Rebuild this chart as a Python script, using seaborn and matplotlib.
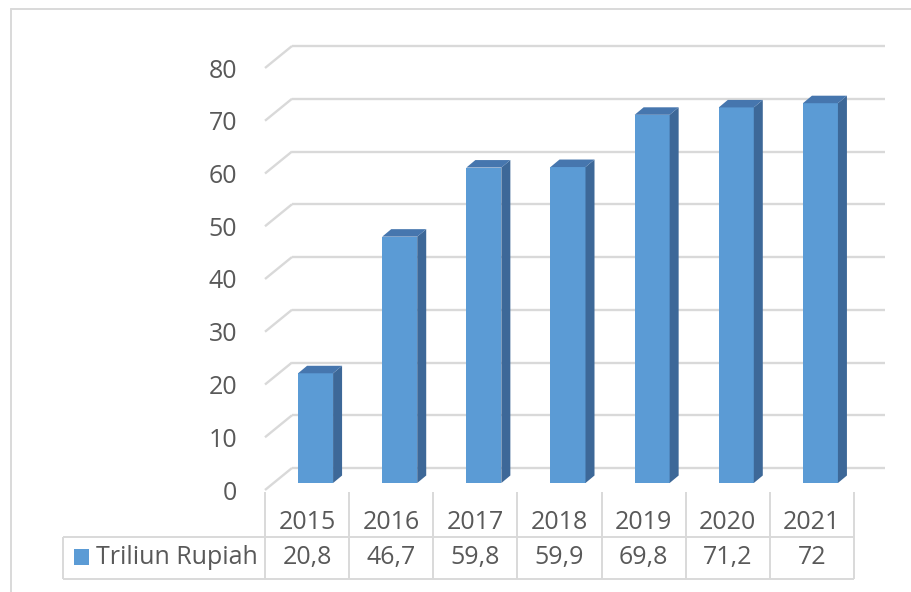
import numpy as np
import pandas as pd
import seaborn as sns
import matplotlib
matplotlib.use("Agg")
import matplotlib.pyplot as plt
from matplotlib.patches import Polygon, Rectangle
from matplotlib.lines import Line2D
import matplotlib.transforms as mtransforms

# ---------------- data ----------------
years = ["2015", "2016", "2017", "2018", "2019", "2020", "2021"]
values = [20.8, 46.7, 59.8, 59.9, 69.8, 71.2, 72]
value_labels = ["20,8", "46,7", "59,8", "59,9", "69,8", "71,2", "72"]
series_name = "Triliun Rupiah"
y_ticks = [0, 10, 20, 30, 40, 50, 60, 70, 80]

# ---------------- style ----------------
sns.set_style("white")
plt.rcParams["font.family"] = ["Open Sans", "DejaVu Sans"]

FRONT = "#5B9BD5"
SIDE = "#3D6898"
TOP = "#4676AE"
GRID = "#D9D9D9"
TEXT = "#595959"
FS = 18

W, H = 912, 592
fig = plt.figure(figsize=(W / 100, H / 100), dpi=100)
fig.patch.set_facecolor("white")


def fx(px):
    return px / W


def fy(py):
    return 1 - py / H


AX_L, AX_R, AX_T, AX_B = 265, 854, 68, 490
ax = fig.add_axes([fx(AX_L), fy(AX_B), (AX_R - AX_L) / W, (AX_B - AX_T) / H])
ax.set_facecolor("none")

df = pd.DataFrame({"year": years, "value": values})
sns.barplot(data=df, x="year", y="value", color=FRONT, saturation=1,
            width=0.416, ax=ax, linewidth=0, zorder=3)

ax.set_xlim(-0.5, len(years) - 0.5)
ax.set_ylim(0, 80)
for s in ax.spines.values():
    s.set_visible(False)
ax.set_xticks([])
ax.set_yticks([])
ax.set_xlabel("")
ax.set_ylabel("")

UX = (AX_R - AX_L) / len(years)   # px per category
UY = (AX_B - AX_T) / 80.0         # px per value unit
WALL_DX, WALL_DY = 27 / UX, 22 / UY
BAR_DX, BAR_DY = 9 / UX, 7.5 / UY

# back wall gridlines + left wall diagonals
x_left = -0.5
x_right = len(years) - 0.5
for v in y_ticks:
    ax.plot([x_left + WALL_DX, x_right + WALL_DX + 4 / UX], [v + WALL_DY] * 2,
            color=GRID, lw=1.7, clip_on=False, zorder=1, solid_capstyle="butt")
    ax.plot([x_left, x_left + WALL_DX], [v, v + WALL_DY],
            color=GRID, lw=1.7, clip_on=False, zorder=1, solid_capstyle="butt")
    ax.text(x_left - 28 / UX, v - 3 / UY, str(v), ha="right", va="center",
            fontsize=FS, color=TEXT)

# 3D bars: shift front faces into the depth and add side/top faces
bar_off = mtransforms.ScaledTranslation(8.5 / 100, 7 / 100, fig.dpi_scale_trans)
bar_trans = ax.transData + bar_off
for p in list(ax.patches):
    x0, w, h = p.get_x(), p.get_width(), p.get_height()
    p.set_transform(bar_trans)
    p.set_clip_on(False)
    side = Polygon([(x0 + w, 0), (x0 + w, h), (x0 + w + BAR_DX, h + BAR_DY),
                    (x0 + w + BAR_DX, BAR_DY)], closed=True,
                   facecolor=SIDE, edgecolor="none", transform=bar_trans,
                   clip_on=False, zorder=3)
    top = Polygon([(x0, h), (x0 + w, h), (x0 + w + BAR_DX, h + BAR_DY),
                   (x0 + BAR_DX, h + BAR_DY)], closed=True,
                  facecolor=TOP, edgecolor="none", transform=bar_trans,
                  clip_on=False, zorder=3)
    ax.add_patch(side)
    ax.add_patch(top)

# ---------------- data table ----------------
T_L, T_TOP, T_MID, T_BOT = 63, 492, 537, 579
tab = fig.add_axes([fx(T_L), fy(T_BOT), (AX_R - T_L) / W, (T_BOT - T_TOP) / H])
XL = x_left - (AX_L - T_L) / UX
tab.set_xlim(XL, x_right)
tab.set_ylim(T_BOT, T_TOP)
tab.axis("off")

lkw = dict(color=GRID, lw=1.4, clip_on=False, solid_capstyle="butt")
for i in range(len(years) + 1):
    xb = i - 0.5
    tab.plot([xb, xb], [T_TOP, T_BOT], **lkw)
tab.plot([XL, XL], [T_MID, T_BOT], **lkw)
tab.plot([XL, x_right], [T_MID, T_MID], **lkw)
tab.plot([XL, x_right], [T_BOT, T_BOT], **lkw)

for i, (yr, lab) in enumerate(zip(years, value_labels)):
    tab.text(i, 529, yr, ha="center", va="baseline", fontsize=FS, color=TEXT)
    tab.text(i, 564, lab, ha="center", va="baseline", fontsize=FS, color=TEXT)

tab.add_patch(Rectangle((XL + 11 / UX, 549), 15 / UX, 16,
                        facecolor=FRONT, edgecolor="none", clip_on=False))
tab.text(XL + 33 / UX, 564, series_name, ha="left", va="baseline",
         fontsize=FS, color=TEXT)

# chart area border
fig.add_artist(Line2D([fx(11), fx(11)], [fy(9), 0], transform=fig.transFigure,
                      color=GRID, lw=1.4))
fig.add_artist(Line2D([fx(11), 1], [fy(9), fy(9)], transform=fig.transFigure,
                      color=GRID, lw=1.4))

fig.savefig("out.png", dpi=100, facecolor="white")
